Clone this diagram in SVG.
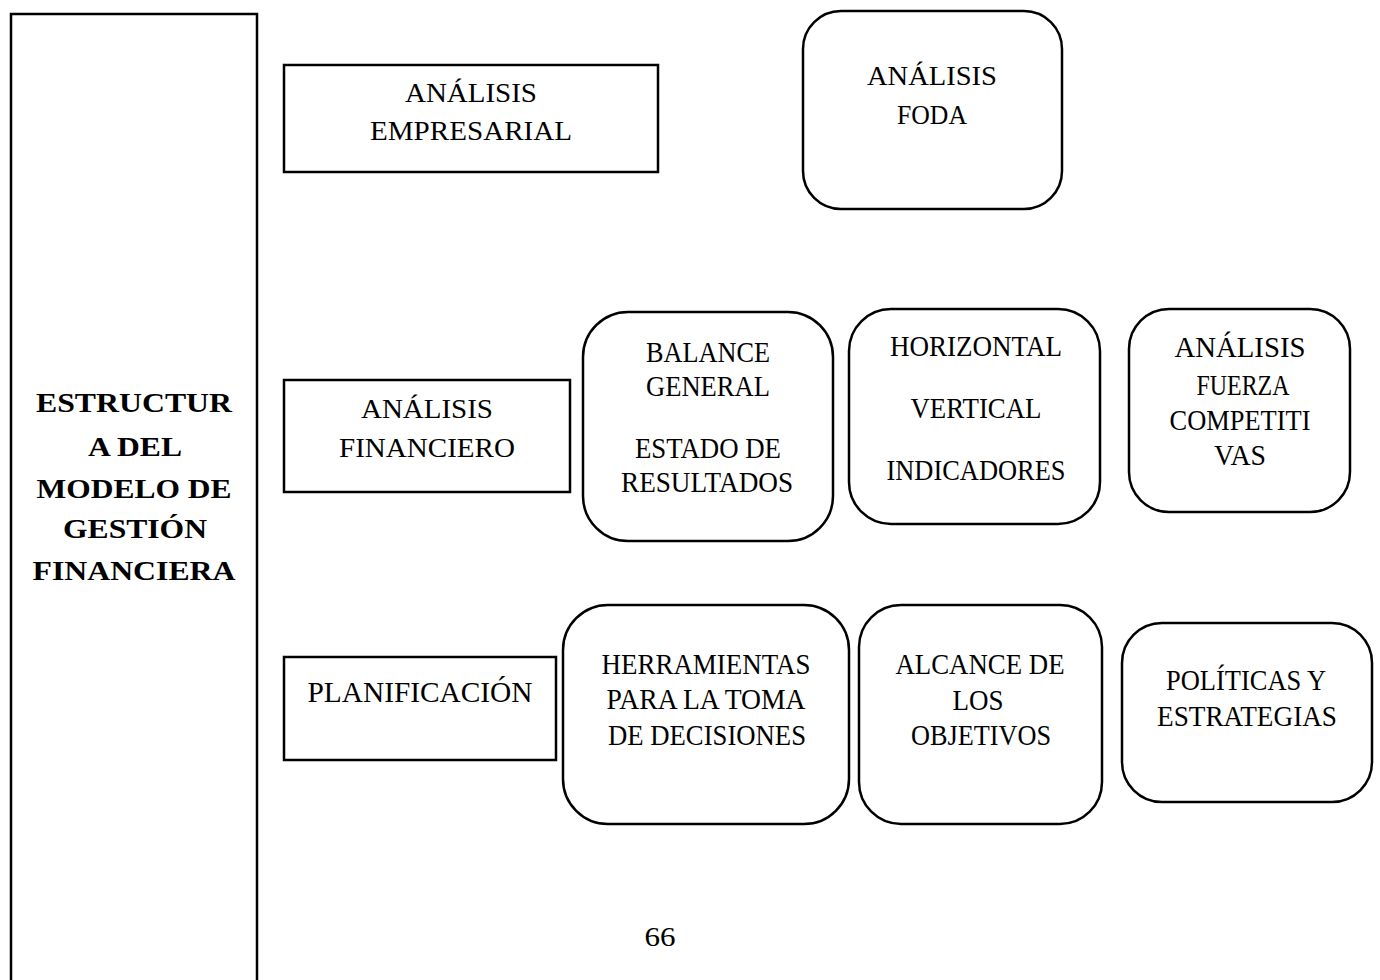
<svg xmlns="http://www.w3.org/2000/svg" width="1380" height="980" viewBox="0 0 1380 980">
<style>
.box{fill:#fff;stroke:#000;stroke-width:2.5}
.t{font-family:'Liberation Serif','Times New Roman',Times,serif;font-size:27px;fill:#000;text-anchor:middle}
.t2{font-family:'Liberation Serif','Times New Roman',Times,serif;font-size:30px;fill:#000;text-anchor:middle}
.b{font-family:'Liberation Serif','Times New Roman',Times,serif;font-size:28px;font-weight:bold;fill:#000;text-anchor:middle}
</style>
<rect width="1380" height="980" fill="#fff"/>
<g id="main">
<path class="box" d="M11,990 L11,14 L257,14 L257,990" stroke-width="3"/>
<text class="b" x="134" y="412" textLength="196" lengthAdjust="spacingAndGlyphs">ESTRUCTUR</text>
<text class="b" x="135" y="456" textLength="94" lengthAdjust="spacingAndGlyphs">A DEL</text>
<text class="b" x="134" y="498" textLength="195" lengthAdjust="spacingAndGlyphs">MODELO DE</text>
<text class="b" x="135" y="538" textLength="144" lengthAdjust="spacingAndGlyphs">GESTIÓN</text>
<text class="b" x="134" y="580" textLength="203" lengthAdjust="spacingAndGlyphs">FINANCIERA</text>
</g>
<g id="analisis-empresarial">
<rect class="box" x="284" y="65" width="374" height="107"/>
<text class="t" x="471" y="102" textLength="132" lengthAdjust="spacingAndGlyphs">ANÁLISIS</text>
<text class="t" x="471" y="140" textLength="202" lengthAdjust="spacingAndGlyphs">EMPRESARIAL</text>
</g>
<g id="analisis-foda">
<rect class="box" x="803" y="11" width="259" height="198" rx="38"/>
<text class="t" x="932" y="85" textLength="130" lengthAdjust="spacingAndGlyphs">ANÁLISIS</text>
<text class="t" x="932" y="124" textLength="70" lengthAdjust="spacingAndGlyphs">FODA</text>
</g>
<g id="analisis-financiero">
<rect class="box" x="284" y="380" width="286" height="112"/>
<text class="t" x="427" y="418" textLength="132" lengthAdjust="spacingAndGlyphs">ANÁLISIS</text>
<text class="t" x="427" y="457" textLength="176" lengthAdjust="spacingAndGlyphs">FINANCIERO</text>
</g>
<g id="balance">
<rect class="box" x="583" y="312" width="250" height="229" rx="45"/>
<text class="t2" x="708" y="362" textLength="124" lengthAdjust="spacingAndGlyphs">BALANCE</text>
<text class="t2" x="708" y="396" textLength="124" lengthAdjust="spacingAndGlyphs">GENERAL</text>
<text class="t2" x="708" y="458" textLength="146" lengthAdjust="spacingAndGlyphs">ESTADO DE</text>
<text class="t2" x="707" y="492" textLength="172" lengthAdjust="spacingAndGlyphs">RESULTADOS</text>
</g>
<g id="horizontal">
<rect class="box" x="849" y="309" width="251" height="215" rx="42"/>
<text class="t2" x="976" y="356" textLength="172" lengthAdjust="spacingAndGlyphs">HORIZONTAL</text>
<text class="t2" x="976" y="418" textLength="131" lengthAdjust="spacingAndGlyphs">VERTICAL</text>
<text class="t2" x="976" y="480" textLength="179" lengthAdjust="spacingAndGlyphs">INDICADORES</text>
</g>
<g id="fuerza">
<rect class="box" x="1129" y="309" width="221" height="203" rx="40"/>
<text class="t2" x="1240" y="357" textLength="131" lengthAdjust="spacingAndGlyphs">ANÁLISIS</text>
<text class="t2" x="1243" y="395" textLength="93" lengthAdjust="spacingAndGlyphs">FUERZA</text>
<text class="t2" x="1240" y="430" textLength="141" lengthAdjust="spacingAndGlyphs">COMPETITI</text>
<text class="t2" x="1240" y="465" textLength="52" lengthAdjust="spacingAndGlyphs">VAS</text>
</g>
<g id="planificacion">
<rect class="box" x="284" y="657" width="272" height="103"/>
<text class="t2" x="420" y="702" textLength="225" lengthAdjust="spacingAndGlyphs">PLANIFICACIÓN</text>
</g>
<g id="herramientas">
<rect class="box" x="563" y="605" width="286" height="219" rx="45"/>
<text class="t2" x="706" y="674" textLength="209" lengthAdjust="spacingAndGlyphs">HERRAMIENTAS</text>
<text class="t2" x="706" y="709" textLength="199" lengthAdjust="spacingAndGlyphs">PARA LA TOMA</text>
<text class="t2" x="707" y="745" textLength="198" lengthAdjust="spacingAndGlyphs">DE DECISIONES</text>
</g>
<g id="alcance">
<rect class="box" x="859" y="605" width="243" height="219" rx="42"/>
<text class="t2" x="980" y="674" textLength="169" lengthAdjust="spacingAndGlyphs">ALCANCE DE</text>
<text class="t2" x="978" y="710" textLength="51" lengthAdjust="spacingAndGlyphs">LOS</text>
<text class="t2" x="981" y="745" textLength="140" lengthAdjust="spacingAndGlyphs">OBJETIVOS</text>
</g>
<g id="politicas">
<rect class="box" x="1122" y="623" width="250" height="179" rx="40"/>
<text class="t2" x="1246" y="690" textLength="160" lengthAdjust="spacingAndGlyphs">POLÍTICAS Y</text>
<text class="t2" x="1247" y="726" textLength="180" lengthAdjust="spacingAndGlyphs">ESTRATEGIAS</text>
</g>
<g id="connectors"></g>
<text class="t" x="660" y="946" textLength="31" lengthAdjust="spacingAndGlyphs">66</text>
</svg>
